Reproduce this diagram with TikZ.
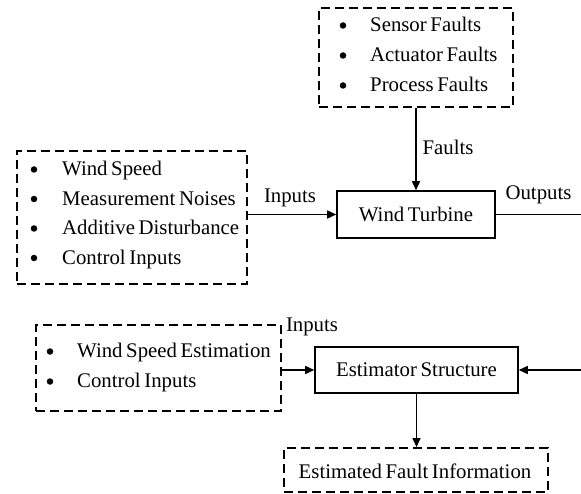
\documentclass[tikz,border=0pt]{standalone}
\usepackage{fontspec}
\setmainfont{Liberation Serif}[WordSpace=0.7]
\usetikzlibrary{arrows.meta}
\begin{document}
\begin{tikzpicture}[x=1pt,y=-1pt,
  every node/.style={font=\fontsize{20.8}{24}\selectfont, inner sep=0pt},
  dashbox/.style={draw, line width=1.6pt, dash pattern=on 9pt off 5pt, rectangle, anchor=north west},
  solidbox/.style={draw, line width=1.6pt, rectangle},
  item/.style={anchor=base west},
  dot/.style={circle, fill, minimum size=6.5pt},
  lbl/.style={anchor=base},
  conn/.style={line width=1.6pt},
  arr/.style={conn, -{Triangle[length=9pt,width=8pt]}}]
\useasboundingbox (0,0) rectangle (581,494);

% fault sources
\node[dashbox, minimum width=194pt, minimum height=99pt] (faults) at (318,7) {};
\node[dot] (f1d) at (343,25.5) {};
\node[item] (f1) at (370,32) {Sensor Faults};
\node[dot] (f2d) at (343,55.5) {};
\node[item] (f2) at (370,62) {Actuator Faults};
\node[dot] (f3d) at (343,85.5) {};
\node[item] (f3) at (370,92) {Process Faults};

% plant
\node[solidbox, minimum width=158pt, minimum height=47pt] (wt) at (416,214.5) {Wind Turbine};

% plant inputs
\node[dashbox, minimum width=230pt, minimum height=133pt] (inbox) at (16,150) {};
\node[dot] (i1d) at (34,169.5) {};
\node[item] (i1) at (62,176) {Wind Speed};
\node[dot] (i2d) at (34,199) {};
\node[item] (i2) at (62,205.5) {Measurement Noises};
\node[dot] (i3d) at (34,228.5) {};
\node[item] (i3) at (62,235) {Additive Disturbance};
\node[dot] (i4d) at (34,258) {};
\node[item] (i4) at (62,264.5) {Control Inputs};

% estimator and its inputs
\node[solidbox, minimum width=203pt, minimum height=46pt] (est) at (416.5,370) {Estimator Structure};
\node[dashbox, minimum width=245pt, minimum height=86pt] (ebox) at (35,324) {};
\node[dot] (e1d) at (50,351.5) {};
\node[item] (e1) at (77,357) {Wind Speed Estimation};
\node[dot] (e2d) at (50,381.5) {};
\node[item] (e2) at (77,387) {Control Inputs};

% estimator output
\node[dashbox, minimum width=264pt, minimum height=44pt] (finfo) at (283,447) {};
\node[anchor=center] (finfot) at (415,471) {Estimated Fault Information};

% connectors
\coordinate (outend) at (581,214.5);
\coordinate (fbin) at (581,370);
\draw[arr] (faults.south -| wt.north) -- (wt.north);
\draw[arr] (inbox.east |- wt.west) -- (wt.west);
\draw[conn] (wt.east) -- (outend);
\draw[arr] (ebox.east |- est.west) -- (est.west);
\draw[arr] (fbin) -- (est.east);
\draw[arr] (est.south) -- (finfo.north -| est.south);

% signal labels
\node[lbl] (lfaults) at (448,155) {Faults};
\node[lbl] (linputs) at (290,203) {Inputs};
\node[lbl] (loutputs) at (538.5,200) {Outputs};
\node[lbl] (linputs2) at (312,331) {Inputs};
\end{tikzpicture}
\end{document}
